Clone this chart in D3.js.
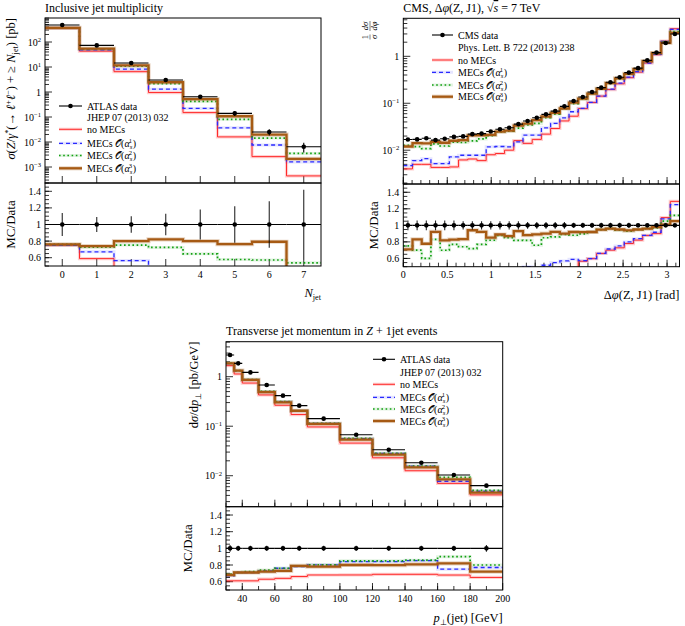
<!DOCTYPE html>
<html><head><meta charset="utf-8">
<script src="https://cdn.jsdelivr.net/npm/d3@7"></script>
<style>body{margin:0;background:#fff} svg{font-family:"Liberation Serif","Times New Roman",serif}</style>
</head><body><svg id="c" width="685" height="626"></svg>
<script>
// ---------- Panel 1: inclusive jet multiplicity ----------
const njetCats   = [0, 1, 2, 3, 4, 5, 6, 7];
const njetData   = [480, 73, 14.5, 3.0, 0.65, 0.14, 0.025, 0.0065];
const njetErr    = [0.14, 0.09, 0.10, 0.13, 0.18, 0.22, 0.28, 0.42];
const njetNoMEC  = [360, 43, 6.5, 0.95, 0.15, 0.016, 0.0026, 0.00044];
const njetMEC1   = [360, 49, 8.2, 1.3, 0.22, 0.037, 0.0076, 0.0016];
const njetMEC2   = [365, 53, 10.9, 2.17, 0.42, 0.081, 0.0143, 0.0035];
const njetMEC3   = [365, 54, 11.6, 2.46, 0.52, 0.107, 0.0198, 0.0021];

// ---------- Panel 2: CMS delta phi(Z, J1) ----------
const dphiNBins  = 30;
const dphiData   = [0.0169,0.017,0.018,0.0164,0.0176,0.0192,0.0197,0.022,0.0226,0.025,0.028,0.030,0.036,0.042,0.049,0.058,0.068,0.086,0.112,0.136,0.174,0.215,0.28,0.357,0.45,0.56,0.82,1.2,1.92,3.0];
const dphiErr    = [0.06,0.06,0.06,0.06,0.06,0.06,0.05,0.05,0.05,0.05,0.05,0.05,0.05,0.04,0.04,0.04,0.04,0.04,0.03,0.03,0.03,0.03,0.03,0.03,0.03,0.02,0.02,0.02,0.02,0.02];
const dphiNoMEC  = [0.0040,0.0050,0.0050,0.0043,0.0043,0.0044,0.0062,0.0065,0.0060,0.0080,0.0085,0.0100,0.0160,0.0140,0.0170,0.0220,0.0290,0.0420,0.0530,0.077,0.104,0.142,0.196,0.26,0.351,0.46,0.72,1.08,2.1,3.87];
const dphiMEC1   = [0.0047,0.0060,0.0066,0.0052,0.0052,0.0072,0.0078,0.0078,0.0078,0.0118,0.0120,0.0118,0.0150,0.0210,0.0210,0.0300,0.0374,0.049,0.066,0.078,0.104,0.142,0.20,0.268,0.36,0.47,0.72,1.1,2.07,3.75];
const dphiMEC2   = [0.0127,0.0119,0.0108,0.0136,0.0123,0.0148,0.0146,0.0158,0.0174,0.0205,0.0246,0.0255,0.0295,0.0344,0.0372,0.0493,0.0585,0.0765,0.0986,0.122,0.160,0.204,0.269,0.336,0.419,0.532,0.787,1.164,2.016,3.36];
const dphiMEC3   = [0.0120,0.0141,0.0140,0.0151,0.0144,0.0159,0.0164,0.0207,0.0208,0.0213,0.0249,0.0261,0.0335,0.0370,0.0436,0.0522,0.0626,0.0774,0.103,0.125,0.160,0.204,0.269,0.339,0.423,0.532,0.787,1.176,1.939,3.15];

// ---------- Panel 3: transverse jet momentum ----------
const ptEdges    = [30, 35, 40, 50, 60, 70, 80, 100, 120, 140, 160, 180, 200];
const ptData     = [2.74, 1.86, 1.22, 0.68, 0.414, 0.26, 0.142, 0.067, 0.0334, 0.0183, 0.0103, 0.0063];
const ptErr      = [0.04, 0.03, 0.03, 0.03, 0.03, 0.03, 0.03, 0.03, 0.03, 0.03, 0.03, 0.04];
const ptNoMEC    = [1.671, 1.135, 0.744, 0.428, 0.265, 0.172, 0.0966, 0.0456, 0.0230, 0.0126, 0.0070, 0.0041];
const ptMEC1     = [1.836, 1.321, 0.866, 0.496, 0.315, 0.203, 0.114, 0.0563, 0.0281, 0.0156, 0.00773, 0.00485];
const ptMEC2     = [1.891, 1.321, 0.878, 0.503, 0.315, 0.205, 0.114, 0.0570, 0.0284, 0.0157, 0.00927, 0.00504];
const ptMEC3     = [1.863, 1.321, 0.866, 0.490, 0.302, 0.205, 0.111, 0.0536, 0.0267, 0.0148, 0.00845, 0.00454];

// tick labels
const njetXTicks = [0, 1, 2, 3, 4, 5, 6, 7];
const dphiXTicks = [0, 0.5, 1, 1.5, 2, 2.5, 3];
const ptXTicks   = [40, 60, 80, 100, 120, 140, 160, 180, 200];
const ratioTicks = [0.6, 0.8, 1, 1.2, 1.4];

// ---------- styles ----------
const STY = {
  nomec: {color: "#ff2a2a", width: 1.0, dash: null, halo: 3.2, haloOp: 0.22},
  mec1:  {color: "#2a2aff", width: 1.3, dash: "4,3", halo: 3, haloOp: 0.12},
  mec2:  {color: "#12a012", width: 1.7, dash: "1.6,2.6", halo: 3, haloOp: 0.12},
  mec3:  {color: "#a65a14", width: 2.3, dash: null, halo: 4.2, haloOp: 0.25}
};

const svg = d3.select("#c");
const defs = svg.append("defs");

function rich(t, parts, fs) {
  let shift = 0;
  parts.forEach(p => {
    const s = typeof p === "string" ? {t: p} : p;
    const target = s.sup ? -0.36 * fs : s.sub ? 0.22 * fs : 0;
    const ts = t.append("tspan").text(s.t).attr("dy", target - shift);
    shift = target;
    if (s.sup || s.sub) ts.attr("font-size", fs * 0.66);
    if (s.it) ts.attr("font-style", "italic");
    if (s.dx) ts.attr("dx", s.dx);
    if (s.ov) ts.style("text-decoration", "overline");
  });
}
function mecParts(n) {
  return ["MECs ", {t: "𝒪"}, "(", {t: "α", it: true}, {t: "s", sub: true, it: true}, {t: String(n), sup: true, dx: -3.4}, {t: ")", dx: 0.5}];
}

function drawPanel(P) {
  const g = svg.append("g");
  const x = d3.scaleLinear().domain(P.xDomain).range([P.x0, P.x1]);
  const yM = d3.scaleLog().domain(P.yDomain).range([P.sep, P.top]);
  const yR = d3.scaleLinear().domain([0.5, 1.5]).range([P.bot, P.sep]);
  const W = P.x1 - P.x0;
  defs.append("clipPath").attr("id", P.id + "m").append("rect")
    .attr("x", P.x0).attr("y", P.top).attr("width", W).attr("height", P.sep - P.top);
  defs.append("clipPath").attr("id", P.id + "r").append("rect")
    .attr("x", P.x0).attr("y", P.sep).attr("width", W).attr("height", P.bot - P.sep);

  // ticks
  const ax = g.append("g").attr("stroke", "#000").attr("stroke-width", 0.8);
  const tick = (x1, y1, x2, y2) => ax.append("line").attr("x1", x1).attr("y1", y1).attr("x2", x2).attr("y2", y2);
  [P.sep, P.bot].forEach(yb => {
    P.xMinor.forEach(v => { if (v >= P.xDomain[0] && v <= P.xDomain[1]) tick(x(v), yb, x(v), yb - 4); });
    P.xMajor.forEach(v => tick(x(v), yb, x(v), yb - 7));
  });
  const [lo, hi] = P.yDomain.map(Math.log10);
  for (let e = Math.floor(lo); e <= Math.ceil(hi); e++) {
    for (let k = 1; k <= 9; k++) {
      const v = k * Math.pow(10, e);
      if (v < P.yDomain[0] || v > P.yDomain[1]) continue;
      tick(P.x0, yM(v), P.x0 + (k === 1 ? 7 : 4), yM(v));
    }
  }
  d3.range(0.5, 1.5001, 0.05).forEach(v => tick(P.x0, yR(v), P.x0 + 4, yR(v)));
  ratioTicks.forEach(v => tick(P.x0, yR(v), P.x0 + 7, yR(v)));

  // tick labels
  const tl = g.append("g").attr("font-size", 10);
  P.yExps.forEach(e => {
    const t = tl.append("text").attr("x", P.x0 - 4).attr("y", yM(Math.pow(10, e)) + 3.5).attr("text-anchor", "end");
    if (e === 0) t.text("1");
    else rich(t, ["10", {t: e < 0 ? "−" + (-e) : String(e), sup: true}], 10);
  });
  ratioTicks.forEach(v => tl.append("text").attr("x", P.x0 - 4).attr("y", yR(v) + 3.5)
    .attr("text-anchor", "end").text(d3.format("~g")(v)));
  P.xMajor.forEach(v => tl.append("text").attr("x", x(v)).attr("y", P.bot + 11.5)
    .attr("text-anchor", "middle").text(d3.format("~g")(v)));

  // MC series
  const gm = g.append("g").attr("clip-path", `url(#${P.id}m)`);
  const gr = g.append("g").attr("clip-path", `url(#${P.id}r)`);
  const line = (ys) => d3.line().x(d => x(d[0])).y(d => ys(d[1])).curve(d3.curveStepAfter);
  ["nomec", "mec1", "mec2", "mec3"].forEach(k => {
    const vals = P.series[k], s = STY[k], n = vals.length;
    const pm = vals.map((v, i) => [P.edges[i], v]); pm.push([P.edges[n], vals[n - 1]]);
    const rv = vals.map((v, i) => v / P.data[i]);
    const pr = rv.map((v, i) => [P.edges[i], v]); pr.push([P.edges[n], rv[n - 1]]);
    [[gm, pm, yM], [gr, pr, yR]].forEach(([gg, pts, ys]) => {
      gg.append("path").attr("d", line(ys)(pts)).attr("fill", "none")
        .attr("stroke", s.color).attr("stroke-width", s.halo).attr("stroke-opacity", s.haloOp);
      gg.append("path").attr("d", line(ys)(pts)).attr("fill", "none")
        .attr("stroke", s.color).attr("stroke-width", s.width).attr("stroke-dasharray", s.dash);
    });
  });

  // data
  P.data.forEach((d, i) => {
    const xa = x(P.edges[i]), xb = x(P.edges[i + 1]), xc = x(P.centers[i]), e = P.err[i];
    gm.append("line").attr("x1", xa).attr("x2", xb).attr("y1", yM(d)).attr("y2", yM(d)).attr("stroke", "#000").attr("stroke-width", 1.1);
    gm.append("line").attr("x1", xc).attr("x2", xc).attr("y1", yM(d * (1 - e))).attr("y2", yM(d * (1 + e))).attr("stroke", "#000").attr("stroke-width", 1.1);
    gm.append("circle").attr("cx", xc).attr("cy", yM(d)).attr("r", 2.3).attr("fill", "#000");
    gr.append("line").attr("x1", xa).attr("x2", xb).attr("y1", yR(1)).attr("y2", yR(1)).attr("stroke", "#000").attr("stroke-width", 1.1);
    gr.append("line").attr("x1", xc).attr("x2", xc).attr("y1", yR(1 - e)).attr("y2", yR(1 + e)).attr("stroke", "#000").attr("stroke-width", 1.1).attr("stroke-opacity", 0.85);
    gr.append("circle").attr("cx", xc).attr("cy", yR(1)).attr("r", 2.3).attr("fill", "#000");
  });

  // frames
  g.append("rect").attr("x", P.x0).attr("y", P.top).attr("width", W).attr("height", P.sep - P.top)
    .attr("fill", "none").attr("stroke", "#000").attr("stroke-width", 1);
  g.append("rect").attr("x", P.x0).attr("y", P.sep).attr("width", W).attr("height", P.bot - P.sep)
    .attr("fill", "none").attr("stroke", "#000").attr("stroke-width", 1);

  // legend
  const L = P.legend, lg = g.append("g").attr("font-size", 10);
  lg.append("line").attr("x1", L.x0).attr("x2", L.x1).attr("y1", L.rows[0]).attr("y2", L.rows[0]).attr("stroke", "#000").attr("stroke-width", 1.1);
  lg.append("circle").attr("cx", (L.x0 + L.x1) / 2).attr("cy", L.rows[0]).attr("r", 2.3);
  lg.append("text").attr("x", L.tx).attr("y", L.rows[0] + 3.5).text(L.dataLabel);
  lg.append("text").attr("x", L.tx).attr("y", L.rows[1] + 3.5).text(L.refLabel);
  ["nomec", "mec1", "mec2", "mec3"].forEach((k, j) => {
    const s = STY[k], yy = L.rows[j + 2];
    lg.append("line").attr("x1", L.x0).attr("x2", L.x1).attr("y1", yy).attr("y2", yy)
      .attr("stroke", s.color).attr("stroke-width", s.halo).attr("stroke-opacity", s.haloOp);
    lg.append("line").attr("x1", L.x0).attr("x2", L.x1).attr("y1", yy).attr("y2", yy)
      .attr("stroke", s.color).attr("stroke-width", s.width).attr("stroke-dasharray", s.dash);
    const t = lg.append("text").attr("x", L.tx).attr("y", yy + 3.5);
    if (j === 0) t.text("no MECs"); else rich(t, mecParts(j), 10);
  });

  // titles & labels
  rich(g.append("text").attr("x", P.x0).attr("y", P.titleY).attr("font-size", 12), P.title, 12);
  rich(g.append("text").attr("x", P.x1).attr("y", P.xlabY).attr("text-anchor", "end").attr("font-size", 12.5), P.xlabel, 12.5);
  g.append("text").attr("transform", `translate(${P.rlabX},${(P.sep + P.bot) / 2}) rotate(-90)`)
    .attr("text-anchor", "middle").attr("font-size", 13).text("MC/Data");
  if (P.ylabel) {
    rich(g.append("text").attr("transform", `translate(${P.ylabX},${P.top}) rotate(-90)`)
      .attr("text-anchor", "end").attr("font-size", P.ylabFs), P.ylabel, P.ylabFs);
  }
  return g;
}

// Panel 1
drawPanel({
  id: "p1", x0: 45, x1: 321, top: 18, sep: 183, bot: 266,
  xDomain: [-0.5, 7.5], yDomain: [Math.pow(10, -3.64), Math.pow(10, 2.96)],
  edges: njetCats.map(c => c - 0.5).concat([njetCats[njetCats.length - 1] + 0.5]),
  centers: njetCats, data: njetData, err: njetErr,
  series: {nomec: njetNoMEC, mec1: njetMEC1, mec2: njetMEC2, mec3: njetMEC3},
  xMajor: njetXTicks, xMinor: [], yExps: [-3, -2, -1, 0, 1, 2],
  legend: {x0: 59, x1: 82, tx: 87, rows: [106, 117.5, 129.3, 143.3, 155.5, 168.3], dataLabel: "ATLAS data", refLabel: "JHEP 07 (2013) 032"},
  title: ["Inclusive jet multiplicity"], titleY: 12,
  xlabel: [{t: "N", it: true}, {t: "jet", sub: true}], xlabY: 297,
  rlabX: 14.5, ylabX: 15, ylabFs: 12.5,
  ylabel: [{t: "σ", it: true}, "(", {t: "Z", it: true}, "/", {t: "γ", it: true}, {t: "*", sup: true}, "(→ ", {t: "ℓ", it: true}, {t: "+", sup: true}, {t: "ℓ", it: true}, {t: "−", sup: true}, ") + ≥ ", {t: "N", it: true}, {t: "jet", sub: true}, ") [pb]"]
});

// Panel 2
const dphiEdges = d3.range(dphiNBins + 1).map(i => i * Math.PI / dphiNBins);
drawPanel({
  id: "p2", x0: 403.3, x1: 679.5, top: 18.3, sep: 184, bot: 266.7,
  xDomain: [0, Math.PI], yDomain: [Math.pow(10, -2.72), Math.pow(10, 0.81)],
  edges: dphiEdges, centers: dphiEdges.slice(0, -1).map((e, i) => (e + dphiEdges[i + 1]) / 2),
  data: dphiData, err: dphiErr,
  series: {nomec: dphiNoMEC, mec1: dphiMEC1, mec2: dphiMEC2, mec3: dphiMEC3},
  xMajor: dphiXTicks, xMinor: d3.range(0, 3.15, 0.1), yExps: [-2, -1, 0],
  legend: {x0: 432, x1: 453, tx: 458, rows: [35, 47.7, 60, 72.3, 85, 96.7], dataLabel: "CMS data", refLabel: "Phys. Lett. B 722 (2013) 238"},
  title: ["CMS, Δ", {t: "φ", it: true}, "(Z, J1), √", {t: "s", it: true, ov: true}, " = 7 TeV"], titleY: 12,
  xlabel: ["Δ", {t: "φ", it: true}, "(Z, J1) [rad]"], xlabY: 299,
  rlabX: 378, ylabel: null
});
// fraction label 1/σ dσ/dφ
(function () {
  const f = svg.append("g").attr("transform", "translate(370,40) rotate(-90)").attr("font-size", 8.5).attr("font-style", "italic").attr("text-anchor", "middle");
  f.append("text").attr("x", 3).attr("y", -1.8).attr("font-style", "normal").text("1");
  f.append("text").attr("x", 3).attr("y", 7).text("σ");
  f.append("line").attr("x1", 0.5).attr("x2", 5.5).attr("y1", 0).attr("y2", 0).attr("stroke", "#000").attr("stroke-width", 0.5);
  f.append("text").attr("x", 14).attr("y", -1.8).text("dσ");
  f.append("text").attr("x", 14).attr("y", 7).text("dφ");
  f.append("line").attr("x1", 9).attr("x2", 19).attr("y1", 0).attr("y2", 0).attr("stroke", "#000").attr("stroke-width", 0.5);
})();

// Panel 3
drawPanel({
  id: "p3", x0: 226, x1: 502.7, top: 341.7, sep: 506.7, bot: 590,
  xDomain: [30, 200], yDomain: [Math.pow(10, -2.626), Math.pow(10, 0.707)],
  edges: ptEdges, centers: ptEdges.slice(0, -1).map((e, i) => (e + ptEdges[i + 1]) / 2),
  data: ptData, err: ptErr,
  series: {nomec: ptNoMEC, mec1: ptMEC1, mec2: ptMEC2, mec3: ptMEC3},
  xMajor: ptXTicks, xMinor: d3.range(30, 200, 10), yExps: [-2, -1, 0],
  legend: {x0: 373, x1: 395, tx: 400, rows: [359.3, 372, 384.3, 397.3, 409, 421], dataLabel: "ATLAS data", refLabel: "JHEP 07 (2013) 032"},
  title: ["Transverse jet momentum in ", {t: "Z", it: true}, " + 1jet events"], titleY: 335,
  xlabel: [{t: "p", it: true}, {t: "⊥", sub: true}, "(jet) [GeV]"], xlabY: 622,
  rlabX: 192, ylabX: 198, ylabFs: 12.5,
  ylabel: ["d", {t: "σ", it: true}, "/d", {t: "p", it: true}, {t: "⊥", sub: true}, " [pb/GeV]"]
});
</script></body></html>
